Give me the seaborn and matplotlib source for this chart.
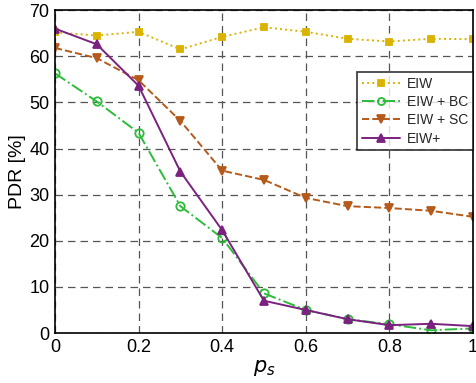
import pandas as pd
import seaborn as sns
import matplotlib.pyplot as plt

ps = [0, 0.1, 0.2, 0.3, 0.4, 0.5, 0.6, 0.7, 0.8, 0.9, 1.0]
eiw = [65.2, 64.5, 65.3, 61.5, 64.2, 66.3, 65.3, 63.8, 63.2, 63.8, 63.7]
eiw_bc = [56.3, 50.2, 43.4, 27.5, 20.6, 8.6, 5.0, 3.0, 1.9, 0.6, 1.0]
eiw_sc = [61.8, 59.6, 54.8, 46.0, 35.2, 33.2, 29.3, 27.5, 27.1, 26.5, 25.2]
eiw_plus = [66.0, 62.6, 53.6, 35.0, 22.3, 7.0, 5.0, 3.0, 1.7, 2.0, 1.5]

sns.set_style("white")
plt.rcParams['font.family'] = ['Liberation Sans', 'DejaVu Sans']

fig = plt.figure(figsize=(4.76, 3.83), dpi=100)
ax = fig.add_axes([0.1155, 0.1305, 0.878, 0.843])

# series: label, values, colour, marker, linestyle, filled
series = [
    ("EIW", eiw, "#d9b300", "s", ":", True),
    ("EIW + BC", eiw_bc, "#2dbb3a", "o", "-.", False),
    ("EIW + SC", eiw_sc, "#b65a1b", "v", "--", True),
    ("EIW+", eiw_plus, "#7b2180", "^", "-", True),
]

for label, vals, col, mk, ls, filled in series:
    df = pd.DataFrame({"ps": ps, "pdr": vals})
    sns.lineplot(data=df, x="ps", y="pdr", ax=ax, color=col, marker=mk,
                 linestyle=ls, linewidth=1.4, markersize=6 if mk != "s" else 5,
                 markerfacecolor=col if filled else "none",
                 markeredgecolor=col, markeredgewidth=1.3, label=label)

ax.set_xlim(0, 1)
ax.set_ylim(0, 70)
ax.set_xticks([0, 0.2, 0.4, 0.6, 0.8, 1])
ax.set_xticklabels(["0", "0.2", "0.4", "0.6", "0.8", "1"])
ax.set_yticks(range(0, 71, 10))
ax.tick_params(labelsize=13, length=0, pad=4, labelcolor="black")
ax.grid(True, color="#555555", linestyle=(0, (6, 4)), linewidth=0.9)
for s in ax.spines.values():
    s.set_color("black")
    s.set_linewidth(1.2)
ax.set_xlabel("$p_s$", fontsize=15, labelpad=2, color="black")
ax.set_ylabel("PDR [%]", fontsize=14, labelpad=2, color="black")

leg = ax.legend(loc="upper right", bbox_to_anchor=(1.0, 0.808), fontsize=10,
                frameon=True, fancybox=False, edgecolor="black",
                borderpad=0.35, labelspacing=0.3, handlelength=2.7,
                handletextpad=0.5, borderaxespad=0, markerscale=0.85)
leg.get_frame().set_linewidth(1.2)

fig.savefig("out.png", dpi=100)
